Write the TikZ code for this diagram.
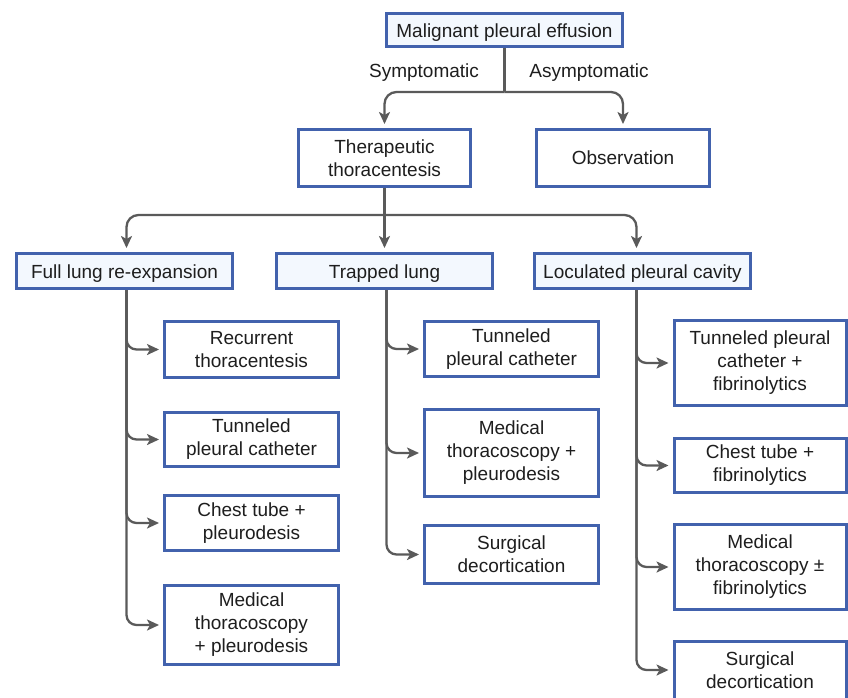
\documentclass[tikz,border=0pt]{standalone}
\usepackage{fontspec}
\setmainfont{Liberation Sans}
\usetikzlibrary{arrows.meta,calc}
\definecolor{boxblue}{HTML}{4262AD}
\definecolor{lightfill}{HTML}{F3F8FE}
\definecolor{conngray}{HTML}{5A5A5A}
\definecolor{txt}{HTML}{1E1E1E}
\newcommand{\lowr}[1]{\raisebox{-2.5pt}[\height][\depth]{#1}}
\tikzset{
 box/.style={draw=boxblue, line width=3pt, fill=white, inner sep=0pt, align=center, text=txt, font=\fontsize{19}{23}\selectfont},
 head/.style={box, fill=lightfill},
 conn/.style={draw=conngray, line width=2.3pt, rounded corners=12pt},
 arr/.style={conn, -{Stealth[length=12pt,width=11pt,inset=3pt]}, shorten >=4pt},
 lab/.style={text=txt, font=\fontsize{19}{23}\selectfont, inner sep=0pt}
}
\begin{document}
\begin{tikzpicture}[x=1pt,y=-1pt]
\useasboundingbox (0,0) rectangle (848,697);
\fill[white] (0,0) rectangle (848,697);
% top level
\node[head, minimum width=236pt, minimum height=33pt] (mal) at (504.5,30) {\lowr{Malignant pleural effusion}};
\node[lab] (sym) at (424,73) {Symptomatic};
\node[lab] (asym) at (589,73) {Asymptomatic};
\node[box, minimum width=172pt, minimum height=57pt] (ther) at (384.5,158) {Therapeutic\\thoracentesis};
\node[box, minimum width=173pt, minimum height=57pt] (obs) at (623,158) {Observation};
% second level
\node[head, minimum width=216pt, minimum height=35pt] (full) at (124.5,271) {\lowr{Full lung re-expansion}};
\node[head, minimum width=216pt, minimum height=35pt] (trap) at (384.5,271) {\lowr{Trapped lung}};
\node[head, minimum width=216pt, minimum height=35pt] (loc) at (642.5,271) {\lowr{Loculated pleural cavity}};
% left leaves
\node[box, minimum width=174pt, minimum height=56pt] (L1) at (251.5,349.5) {Recurrent\\thoracentesis};
\node[box, minimum width=174pt, minimum height=54pt] (L2) at (251.5,439.5) {Tunneled\\pleural catheter};
\node[box, minimum width=174pt, minimum height=55pt] (L3) at (251.5,523) {Chest tube +\\pleurodesis};
\node[box, minimum width=174pt, minimum height=79pt] (L4) at (251.5,625) {Medical\\thoracoscopy\\+ pleurodesis};
% middle leaves
\node[box, minimum width=174pt, minimum height=55pt] (M1) at (511.5,349) {Tunneled\\pleural catheter};
\node[box, minimum width=174pt, minimum height=87pt] (M2) at (511.5,453) {Medical\\thoracoscopy +\\pleurodesis};
\node[box, minimum width=174pt, minimum height=58pt] (M3) at (511.5,554.5) {Surgical\\decortication};
% right leaves
\node[box, minimum width=172pt, minimum height=85pt] (R1) at (760,363) {Tunneled pleural\\catheter +\\fibrinolytics};
\node[box, minimum width=172pt, minimum height=54pt] (R2) at (760,465.5) {Chest tube +\\fibrinolytics};
\node[box, minimum width=172pt, minimum height=85pt] (R3) at (760,567) {Medical\\thoracoscopy ±\\fibrinolytics};
\node[box, minimum width=172pt, minimum height=58pt] (R4) at (760,670) {Surgical\\decortication};
% connectors top
\coordinate (s1) at (504.5,92);
\draw[conn] (mal.south) -- (s1);
\draw[arr] (s1) -| (ther.north);
\draw[arr] (s1) -| (obs.north);
\coordinate (s2) at (384.5,215);
\draw[conn] (ther.south) -- (s2);
\draw[arr] (s2) -| ([xshift=2pt]full.north);
\draw[arr] (s2) -- (trap.north);
\draw[arr] (s2) -| ([xshift=-6pt]loc.north);
% leaf connectors
\foreach \n in {L1,L2,L3,L4} \draw[arr, rounded corners=10pt] ([xshift=2pt]full.south) |- (\n.west);
\foreach \n in {M1,M2,M3} \draw[arr, rounded corners=10pt] ([xshift=2pt]trap.south) |- (\n.west);
\foreach \n in {R1,R2,R3,R4} \draw[arr, rounded corners=10pt] ([xshift=-6pt]loc.south) |- (\n.west);
\end{tikzpicture}
\end{document}
